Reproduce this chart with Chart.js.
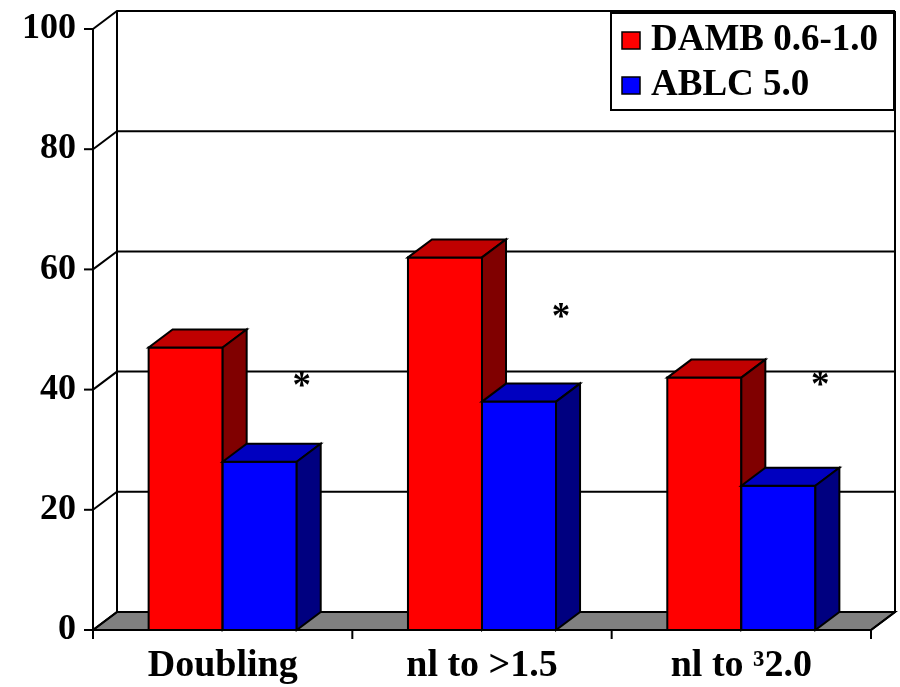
<!DOCTYPE html>
<html>
<head>
<meta charset="utf-8">
<script src="https://cdn.jsdelivr.net/npm/chart.js@4.4.1/dist/chart.umd.min.js"></script>
<style>
  html, body { margin: 0; padding: 0; background: #ffffff; }
  #wrap { width: 900px; height: 687px; }
</style>
</head>
<body>
<div id="wrap"><canvas id="c" width="900" height="687"></canvas></div>
<script>
// Response rates by creatinine criterion
const categories = ['Doubling', 'nl to >1.5', 'nl to \u00B32.0'];
const seriesNames = ['DAMB 0.6-1.0', 'ABLC 5.0'];
const dambValues = [47, 62, 42];
const ablcValues = [28, 38, 24];
const yTicks = [0, 20, 40, 60, 80, 100];
const sigMarks = ['*', '*', '*'];

const SERIF = '"Liberation Serif", "Times New Roman", Times, serif';

// front / top / side shades for each series
const shades = [
  { front: '#ff0000', top: '#c00000', side: '#800000' },
  { front: '#0000ff', top: '#0000c0', side: '#000080' }
];

const boxes3d = {
  id: 'boxes3d',
  beforeDatasetsDraw(chart, args, opts) {
    const { ctx, chartArea: a, scales: { x, y } } = chart;
    const dx = opts.dx, dy = opts.dy;
    const y0 = y.getPixelForValue(0);
    const yTop = y.getPixelForValue(100);
    ctx.save();
    ctx.lineWidth = 2;
    ctx.strokeStyle = '#000';
    ctx.lineJoin = 'miter';
    ctx.lineCap = 'butt';

    // floor
    ctx.beginPath();
    ctx.moveTo(a.left, y0);
    ctx.lineTo(a.right, y0);
    ctx.lineTo(a.right + dx, y0 + dy);
    ctx.lineTo(a.left + dx, y0 + dy);
    ctx.closePath();
    ctx.fillStyle = '#808080';
    ctx.fill();
    ctx.stroke();

    // gridlines across side wall and back wall
    yTicks.forEach(v => {
      const py = y.getPixelForValue(v);
      ctx.beginPath();
      ctx.moveTo(a.left, py);
      ctx.lineTo(a.left + dx, py + dy);
      ctx.lineTo(a.right + dx, py + dy);
      ctx.stroke();
      // tick mark on the front axis
      ctx.beginPath();
      ctx.moveTo(a.left - 9, py);
      ctx.lineTo(a.left, py);
      ctx.stroke();
    });

    // wall edges
    ctx.beginPath();
    ctx.moveTo(a.left + dx, yTop + dy);
    ctx.lineTo(a.left + dx, y0 + dy);
    ctx.moveTo(a.right + dx, yTop + dy);
    ctx.lineTo(a.right + dx, y0 + dy);
    ctx.lineTo(a.right, y0);
    ctx.moveTo(a.left, yTop);
    ctx.lineTo(a.left, y0 + 9);
    ctx.stroke();

    // category ticks below the floor edge
    const n = categories.length;
    const w = (a.right - a.left) / n;
    ctx.beginPath();
    for (let i = 0; i <= n; i++) {
      const px = a.left + i * w;
      ctx.moveTo(px, y0);
      ctx.lineTo(px, y0 + 9);
    }
    ctx.stroke();

    // bars, drawn category by category so the second box covers the first one's side
    const metas = chart.data.datasets.map((d, i) => chart.getDatasetMeta(i));
    for (let j = 0; j < n; j++) {
      metas.forEach((meta, i) => {
        const el = meta.data[j];
        const p = el.getProps(['x', 'y', 'base', 'width'], true);
        const l = p.x - p.width / 2, r = p.x + p.width / 2;
        const t = p.y, b = p.base;
        const s = shades[i];
        // front
        ctx.beginPath();
        ctx.rect(l, t, r - l, b - t);
        ctx.fillStyle = s.front; ctx.fill(); ctx.stroke();
        // top
        ctx.beginPath();
        ctx.moveTo(l, t);
        ctx.lineTo(l + dx, t + dy);
        ctx.lineTo(r + dx, t + dy);
        ctx.lineTo(r, t);
        ctx.closePath();
        ctx.fillStyle = s.top; ctx.fill(); ctx.stroke();
        // side
        ctx.beginPath();
        ctx.moveTo(r, t);
        ctx.lineTo(r + dx, t + dy);
        ctx.lineTo(r + dx, b + dy);
        ctx.lineTo(r, b);
        ctx.closePath();
        ctx.fillStyle = s.side; ctx.fill(); ctx.stroke();
      });
    }
    ctx.restore();
    return false;
  },
  afterDraw(chart, args, opts) {
    const { ctx, scales: { y } } = chart;

    // significance marks beside the second series
    const meta = chart.getDatasetMeta(1);
    ctx.save();
    ctx.fillStyle = '#000';
    ctx.font = 'bold 37px ' + SERIF;
    ctx.textAlign = 'center';
    ctx.textBaseline = 'alphabetic';
    sigMarks.forEach((m, j) => {
      const p = meta.data[j].getProps(['x', 'width'], true);
      const px = p.x + p.width / 2 + opts.markGap;
      const py = y.getPixelForValue(opts.markLevels[j]);
      ctx.fillText(m, px, py + 17);
    });

    // legend box
    const L = opts.legend;
    ctx.fillStyle = '#fff';
    ctx.fillRect(L.x, L.y, L.w, L.h);
    ctx.lineWidth = 2;
    ctx.strokeStyle = '#000';
    ctx.strokeRect(L.x, L.y, L.w, L.h);
    ctx.font = 'bold 37px ' + SERIF;
    ctx.textAlign = 'left';
    ctx.textBaseline = 'alphabetic';
    chart.data.datasets.forEach((d, i) => {
      const base = L.y + 37 + i * 45;
      ctx.fillStyle = shades[i].front;
      ctx.fillRect(L.x + 11, base - 18, 18, 17);
      ctx.lineWidth = 1.5;
      ctx.strokeRect(L.x + 11, base - 18, 18, 17);
      ctx.fillStyle = '#000';
      ctx.fillText(d.label, L.x + 40, base);
    });
    ctx.restore();
  }
};

new Chart(document.getElementById('c'), {
  type: 'bar',
  data: {
    labels: categories,
    datasets: [
      { label: seriesNames[0], data: dambValues, backgroundColor: shades[0].front },
      { label: seriesNames[1], data: ablcValues, backgroundColor: shades[1].front }
    ]
  },
  plugins: [boxes3d],
  options: {
    responsive: false,
    animation: false,
    events: [],
    layout: { padding: { top: 29, right: 29, left: 0, bottom: 0 } },
    datasets: { bar: { categoryPercentage: 0.571, barPercentage: 1.0 } },
    scales: {
      x: {
        grid: { display: false, drawTicks: false },
        border: { display: false },
        ticks: { color: '#000', padding: 13, font: { family: SERIF, size: 38, weight: 'bold' }, maxRotation: 0 },
        afterFit(scale) { scale.height = 57; scale.paddingLeft = 0; scale.paddingRight = 0; }
      },
      y: {
        min: 0, max: 100,
        grid: { display: false, drawTicks: false },
        border: { display: false },
        ticks: { stepSize: 20, color: '#000', padding: 17, font: { family: SERIF, size: 36, weight: 'bold' } },
        afterFit(scale) { scale.width = 93; scale.paddingTop = 0; scale.paddingBottom = 0; }
      }
    },
    plugins: {
      legend: { display: false },
      tooltip: { enabled: false },
      boxes3d: {
        dx: 24, dy: -18,
        markGap: 5,
        markLevels: [41.6, 53.1, 41.8],
        legend: { x: 611, y: 13, w: 283, h: 97 }
      }
    }
  }
});
</script>
</body>
</html>
